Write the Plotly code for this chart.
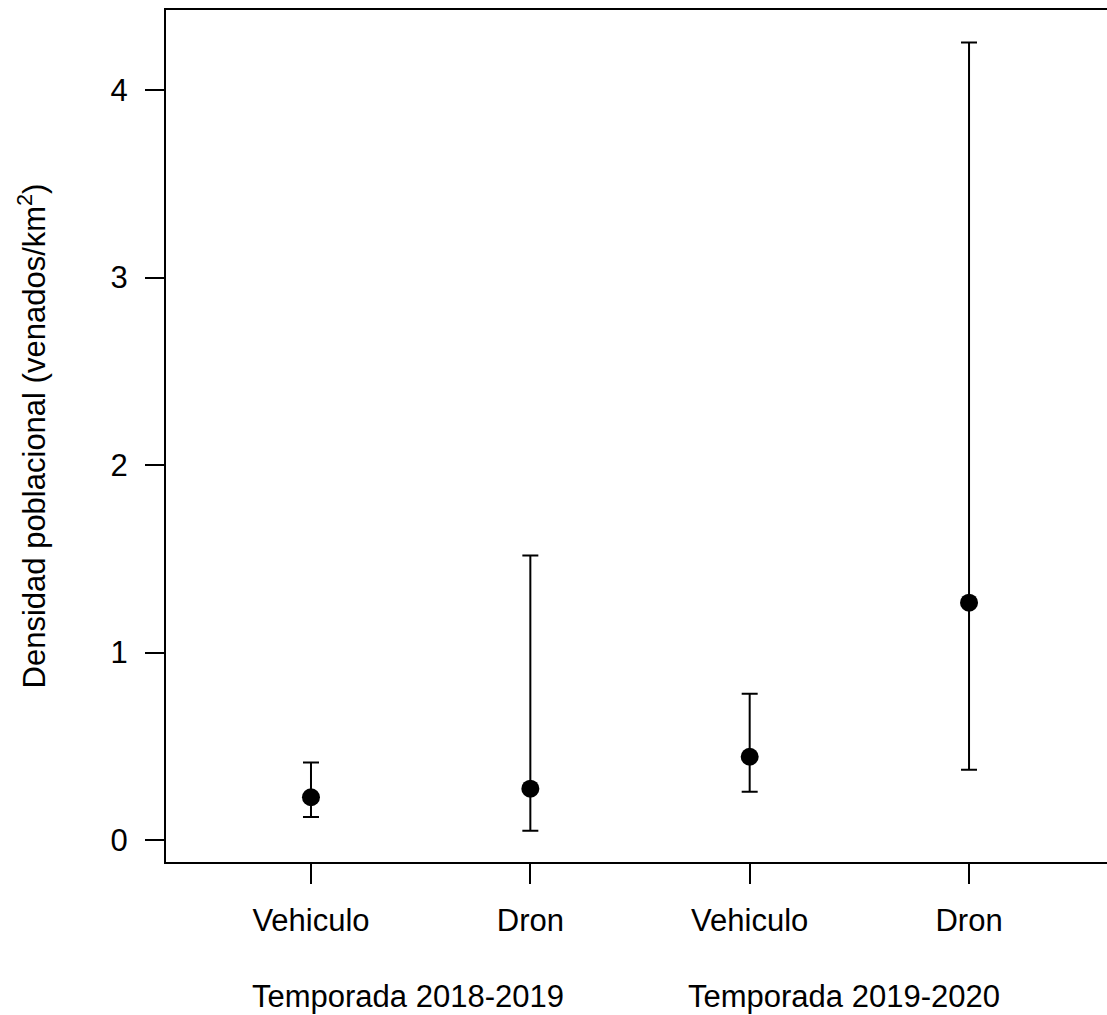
import plotly.graph_objects as go

# Data
metodos = ["Vehiculo", "Dron", "Vehiculo", "Dron"]
posiciones = [1, 2, 3, 4]
temporadas = ["Temporada 2018-2019", "Temporada 2019-2020"]
densidad = [0.228, 0.274, 0.444, 1.266]
limite_inferior = [0.123, 0.050, 0.258, 0.375]
limite_superior = [0.414, 1.518, 0.780, 4.254]

err_plus = [u - d for u, d in zip(limite_superior, densidad)]
err_minus = [d - l for d, l in zip(densidad, limite_inferior)]

FONT = "Liberation Sans, Arial, Helvetica, sans-serif"
FS = 31

fig = go.Figure()
fig.add_trace(go.Scatter(
    x=posiciones,
    y=densidad,
    mode="markers",
    marker=dict(color="black", size=18, symbol="circle"),
    error_y=dict(
        type="data",
        symmetric=False,
        array=err_plus,
        arrayminus=err_minus,
        color="black",
        thickness=2,
        width=8,
    ),
    showlegend=False,
))

fig.update_layout(
    width=1107,
    height=1015,
    margin=dict(l=166, r=0, t=10, b=153),
    paper_bgcolor="white",
    plot_bgcolor="white",
    font=dict(family=FONT, size=FS, color="black"),
    xaxis=dict(
        range=[0.339, 4.629],
        tickvals=posiciones,
        ticktext=metodos,
        ticks="outside",
        ticklen=20,
        tickwidth=2,
        tickcolor="black",
        showline=True,
        linewidth=2,
        linecolor="black",
        mirror=True,
        showgrid=False,
        zeroline=False,
        ticklabelstandoff=10,
        tickfont=dict(family=FONT, size=FS, color="black"),
    ),
    yaxis=dict(
        range=[-0.1173, 4.4267],
        tickvals=[0, 1, 2, 3, 4],
        ticktext=["0", "1", "2", "3", "4"],
        ticks="outside",
        ticklen=19,
        tickwidth=2,
        tickcolor="black",
        showline=True,
        linewidth=2,
        linecolor="black",
        showgrid=False,
        zeroline=False,
        ticklabelstandoff=11,
        tickfont=dict(family=FONT, size=FS, color="black"),
        title=dict(
            text="Densidad poblacional (venados/km<sup>2</sup>)",
            font=dict(family=FONT, size=FS, color="black"),
            standoff=56,
        ),
    ),
)

for xpos, texto in zip([1.444, 3.432], temporadas):
    fig.add_annotation(
        x=xpos, xref="x",
        y=1.0, yref="paper",
        yshift=-986,
        text=texto,
        showarrow=False,
        font=dict(family=FONT, size=FS, color="black"),
        yanchor="middle",
    )

fig.write_html("out.html")
